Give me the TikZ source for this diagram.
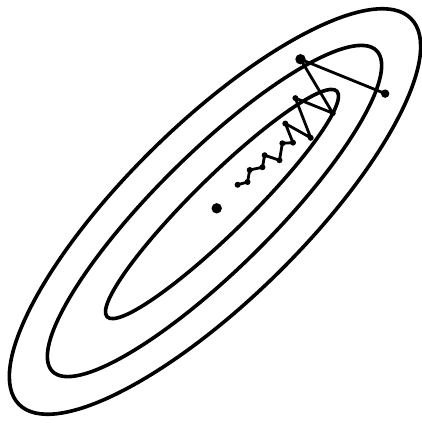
\documentclass[tikz,border=0pt]{standalone}
\usetikzlibrary{positioning}

\begin{document}
\begin{tikzpicture}[
  x=0.25mm, y=-0.25mm,
  contour/.style={line width=0.9mm},
  descent/.style={line width=0.7mm,line join=round,line cap=round},
  stepdot/.style={circle,fill,inner sep=0pt,minimum size=1.5mm},
  bigdot/.style={circle,fill,inner sep=0pt,minimum size=2.6mm}
]
  \useasboundingbox (0,0) rectangle (422,423);
  % level curves
  \draw[contour,rotate around={44.5:(215,211.5)}] (215,211.5) ellipse [x radius=275,y radius=88];
  \draw[contour,rotate around={44.7:(214.5,211)}] (214.5,211) ellipse [x radius=228,y radius=58];
  \draw[contour,rotate around={44.5:(222,204)}] (222,204) ellipse [x radius=161,y radius=28];
  \node[bigdot] (opt) at (216.7,208.3) {};
  % descent steps, along and across the valley
  \begin{scope}[shift={(217,208)},rotate=44.7]
    \foreach \u/\n [count=\k from 0] in {200/37,164/-47,149/14,133/-23,116/16,108/-12,
        100/7,92/0,78/10,71/-4,61/3,50/-4,40/3,31/-2}
      \coordinate (s\k) at (\u,\n);
  \end{scope}
  \draw[descent] (s0) \foreach \k in {1,...,13} { -- (s\k) };
  \node[bigdot] (start) at (s1) {};
  \node[stepdot,minimum size=2.1mm] (first) at (s0) {};
  \foreach \k in {2,...,13}
    \node[stepdot] (d\k) at (s\k) {};
\end{tikzpicture}
\end{document}
